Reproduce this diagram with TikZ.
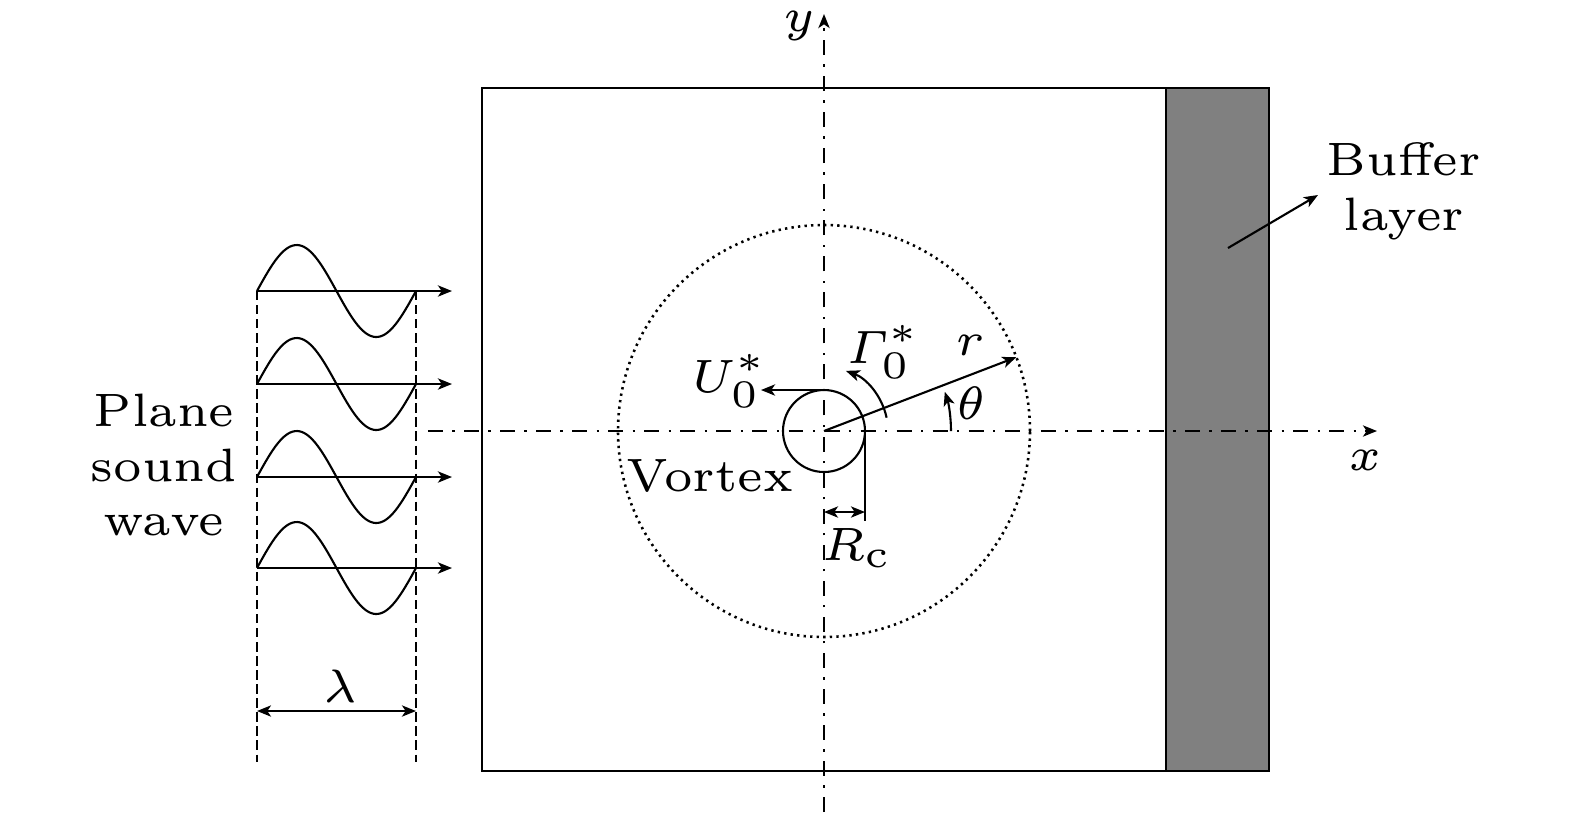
\documentclass[tikz,border=0pt]{standalone}
\usepackage{amsmath}
\usetikzlibrary{arrows.meta}
\begin{document}
\begin{tikzpicture}[x=0.0075cm,y=0.0075cm,
  thinline/.style={line width=0.45pt},
  axisline/.style={line width=0.45pt,dash pattern=on 3.2pt off 2pt on 0.5pt off 2pt},
  guide/.style={line width=0.25pt,dash pattern=on 2pt off 1pt},
  arr/.style={-{Stealth[length=3pt,width=2.4pt,inset=0.8pt]}},
  darr/.style={{Stealth[length=3pt,width=2.4pt,inset=0.8pt]}-{Stealth[length=3pt,width=2.4pt,inset=0.8pt]}},
  lbl/.style={inner sep=0pt,scale=1.6667,font=\fontsize{6}{7}\selectfont}]
\useasboundingbox (-824,431) rectangle (751,-387);
% domain box and buffer
\coordinate (boxSW) at (-342,-340);
\coordinate (boxNE) at (445,343);
\coordinate (bufSW) at (342,-340);
\fill[black!50] (bufSW) rectangle (boxNE);
\draw[thinline] (bufSW) -- (342,343);
\draw[thinline] (boxSW) rectangle (boxNE);
% axes
\coordinate (O) at (0,0);
\coordinate (xs) at (-396,0);
\coordinate (xe) at (553,0);
\coordinate (ys) at (0,-381);
\coordinate (ye) at (0,417);
\draw[axisline,arr] (xs) -- (xe);
\draw[axisline,arr] (ys) -- (ye);
\node[lbl] (xl) at (541,-29) {$x$};
\node[lbl] (yl) at (-25,405) {$y$};
% circles
\draw[line width=0.55pt,dash pattern=on 0.5pt off 0.9pt] (O) circle[radius=206];
\draw[thinline] (O) circle[radius=41];
% r line
\coordinate (rend) at (21:206);
\draw[thinline,arr] (O) -- (rend);
\node[lbl] (rl) at (146,86) {$r$};
% theta
\draw[thinline,arr] (127,0) arc[start angle=0,end angle=18,radius=127];
\node[lbl] (tl) at (147,28) {$\theta$};
% Gamma
\draw[thinline,arr] (12:64) arc[start angle=12,end angle=70,radius=64];
\node[lbl] (gl) at (60,79) {$\varGamma_0^*$};
% U
\coordinate (utop) at (0,41);
\coordinate (uend) at (-63,41);
\draw[thinline,arr] (utop) -- (uend);
\node[lbl] (ul) at (-94,50) {$U_0^*$};
% Vortex
\node[lbl] (vl) at (-114,-45) {Vortex};
% R_c
\coordinate (rc1) at (41,0);
\coordinate (rc2) at (41,-90);
\draw[line width=0.3pt] (rc1) -- (rc2);
\coordinate (rca) at (0,-81);
\coordinate (rcb) at (41,-81);
\draw[thinline,darr] (rca) -- (rcb);
\node[lbl] (rcl) at (33,-117) {$R_\mathrm{c}$};
% waves
\foreach \yy/\nm in {140/a,47/b,-46/c,-137/d}{
  \coordinate (w\nm s) at (-567,\yy);
  \coordinate (w\nm e) at (-372,\yy);
  \draw[thinline,arr] (w\nm s) -- (w\nm e);
  \draw[thinline] plot[domain=0:360,samples=72,smooth] ({-567+0.441667*\x},{\yy+46*sin(\x)});
}
% guides
\coordinate (g1t) at (-567,140);
\coordinate (g1b) at (-567,-331);
\coordinate (g2t) at (-408,140);
\coordinate (g2b) at (-408,-331);
\draw[guide] (g1t) -- (g1b);
\draw[guide] (g2t) -- (g2b);
\coordinate (la) at (-567,-280);
\coordinate (lb) at (-408,-280);
\draw[thinline,darr] (la) -- (lb);
\node[lbl] (lam) at (-484,-255) {$\lambda$};
% plane sound wave
\node[lbl,align=center] (psw) at (-660,-34) {Plane\\sound\\wave};
% buffer
\node[lbl,align=center] (bl) at (580,240) {Buffer\\layer};
\coordinate (bs) at (404,183);
\coordinate (be) at (494,236);
\draw[thinline,arr] (bs) -- (be);
\end{tikzpicture}
\end{document}
